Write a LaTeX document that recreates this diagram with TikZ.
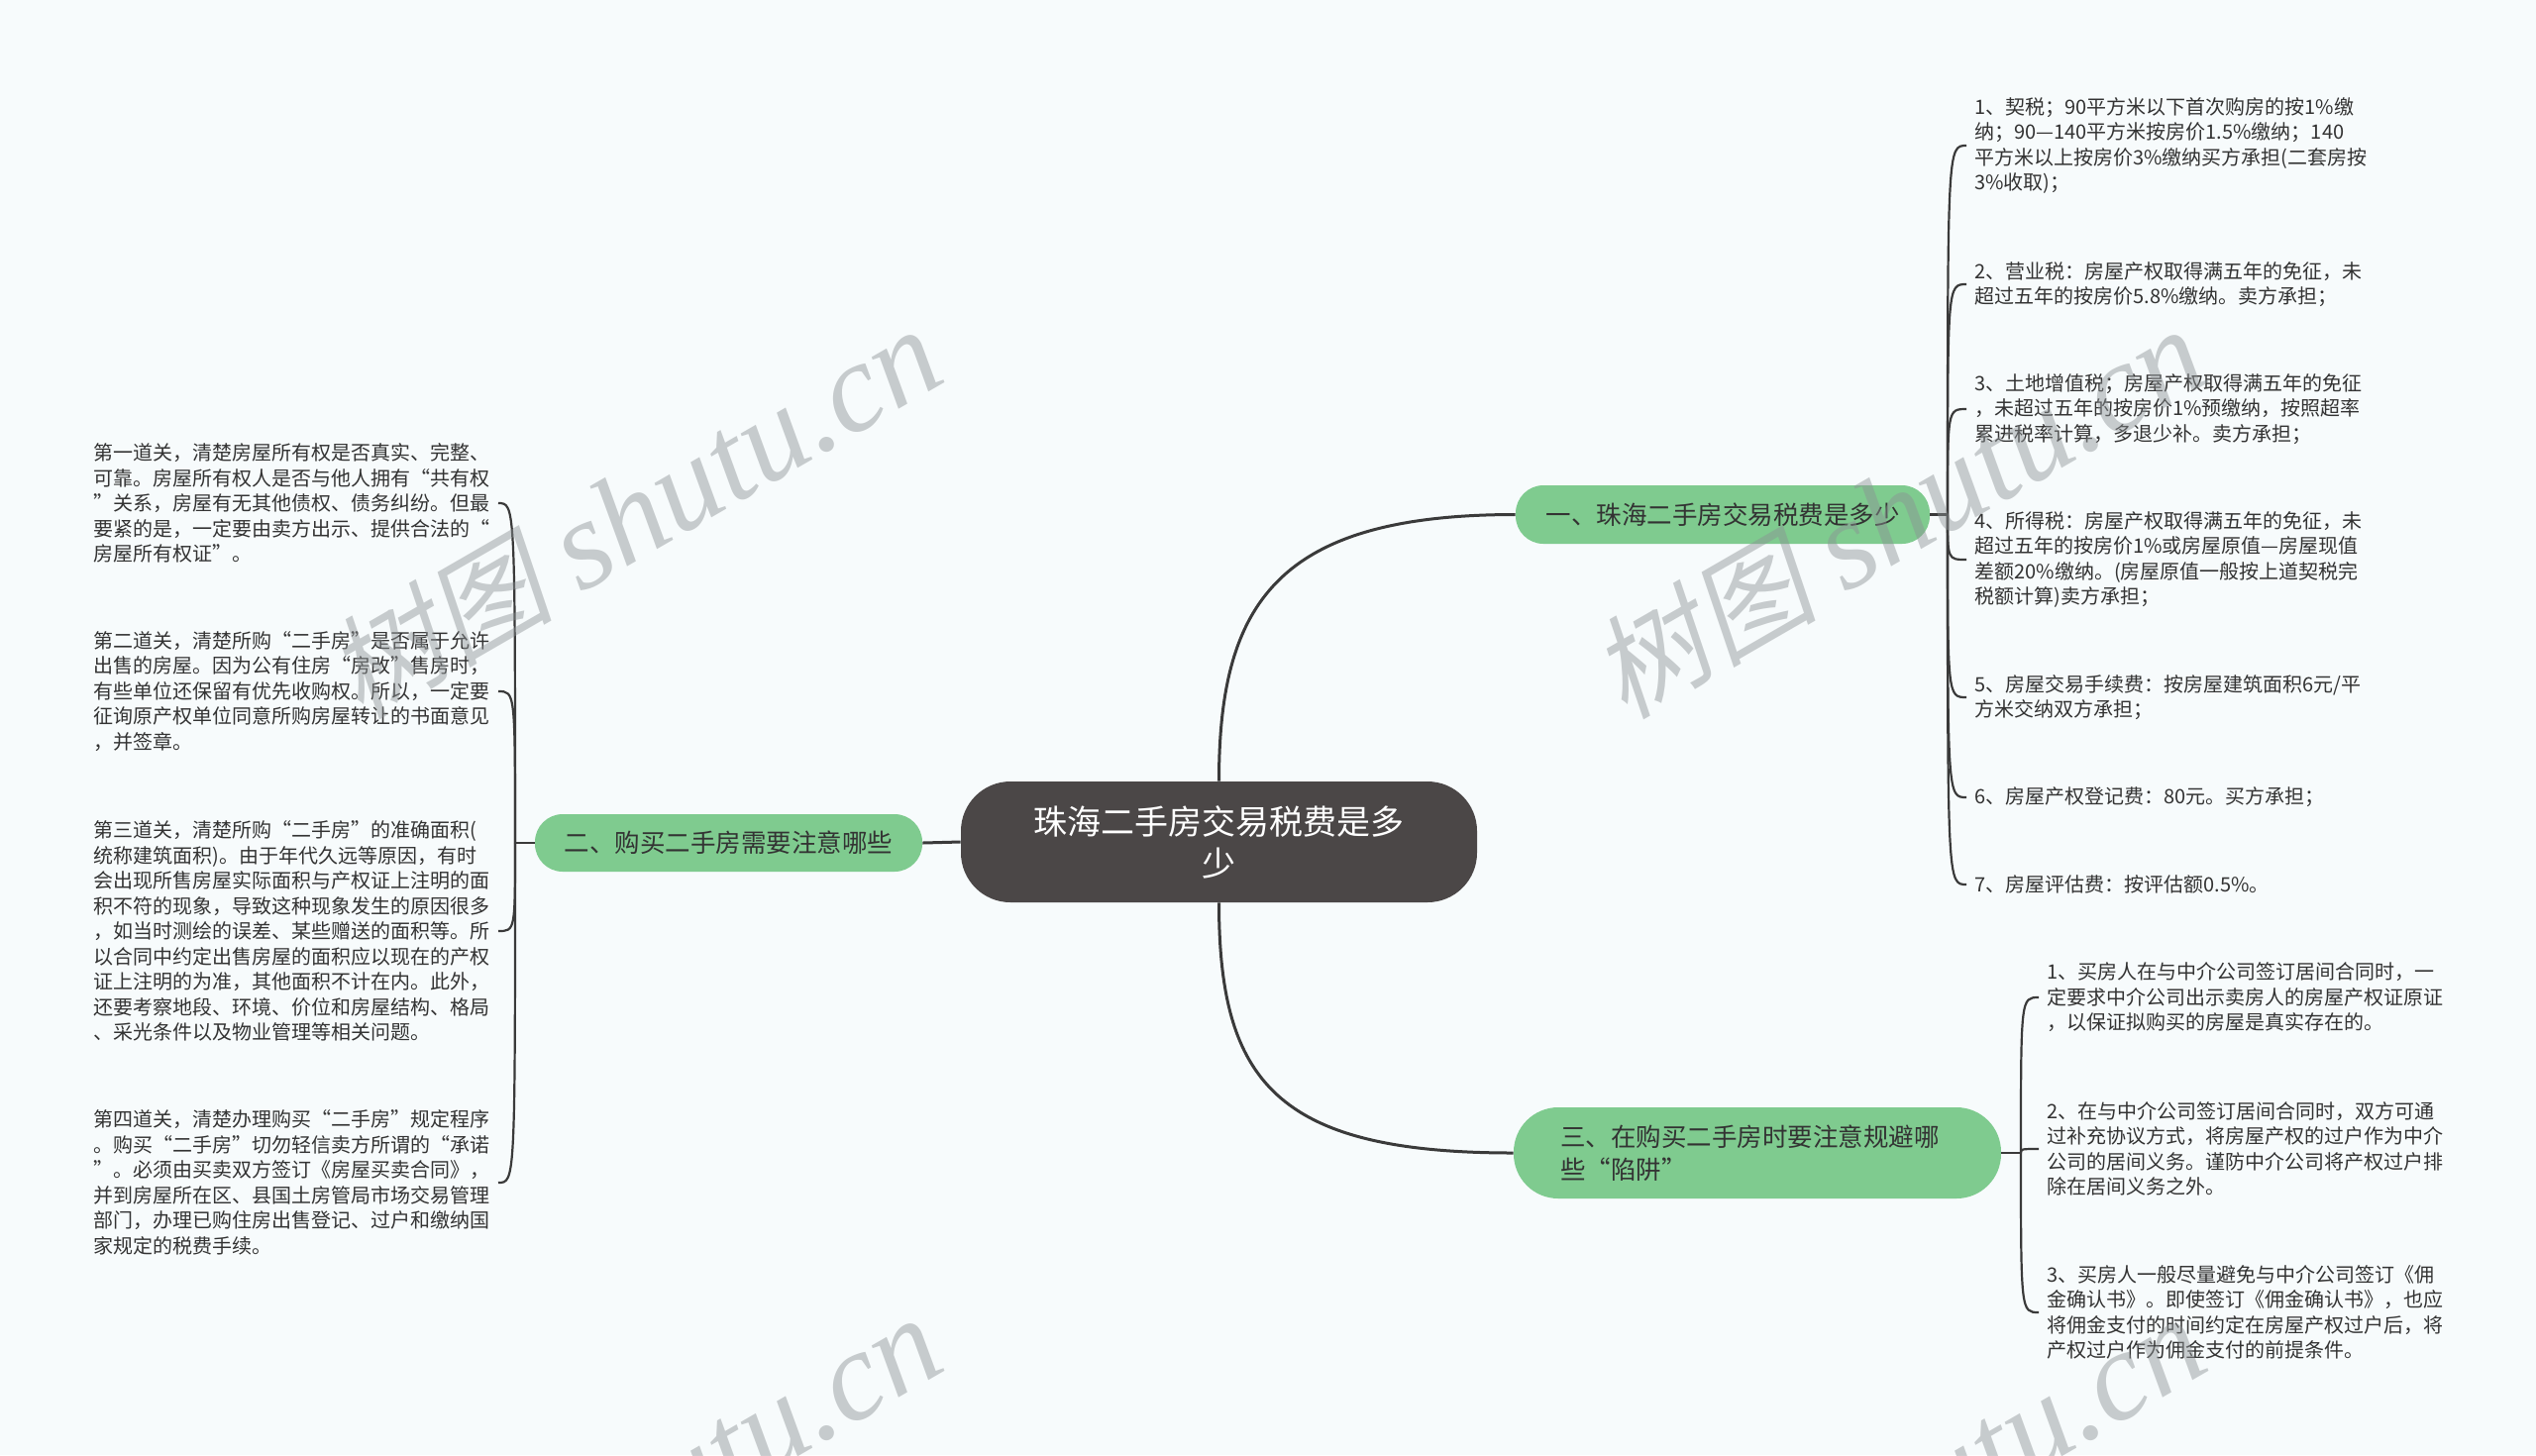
\documentclass[tikz,border=0pt]{standalone}
\usepackage{fontspec}
\setmainfont{Noto Sans CJK SC}
\newfontfamily\wmcjk[FakeSlant=0.2]{Noto Sans CJK SC}
\newfontfamily\wmlatin{Liberation Serif}
\definecolor{bgc}{HTML}{F7FBFC}
\definecolor{rootc}{HTML}{4B4747}
\definecolor{branchc}{HTML}{7FCB8F}
\definecolor{txt}{HTML}{333333}
\definecolor{linec}{HTML}{3A3A3A}
\definecolor{wmc}{HTML}{8C9194}
\newcommand{\wmtext}{{\wmcjk\fontsize{57pt}{64pt}\selectfont 树图}\hspace{14pt}{\wmlatin\itshape\fontsize{64pt}{70pt}\selectfont shutu.cn}}
\tikzset{
  rootbox/.style={fill=rootc, text=white, rounded corners=25pt, minimum width=260.5pt,
    minimum height=61pt, align=center, inner sep=0pt,
    font=\fontsize{17pt}{21pt}\selectfont},
  branchbox/.style={fill=branchc, text=txt, inner sep=0pt, align=center,
    font=\fontsize{12.75pt}{16.5pt}\selectfont},
  leafR/.style={anchor=west, text=txt, align=left, inner xsep=4pt, inner ysep=2pt,
    font=\fontsize{10pt}{12.75pt}\selectfont},
  leafL/.style={anchor=east, text=txt, text width=200pt, align=left, inner xsep=4pt,
    inner ysep=2pt, font=\fontsize{10pt}{12.75pt}\selectfont},
  mainline/.style={draw=linec, line width=1.5pt},
  leafline/.style={draw=linec, line width=1.1pt},
  hook/.style={to path={.. controls (\tikztostart |- \tikztotarget) and (\tikztostart |- \tikztotarget) .. (\tikztotarget)}},
  wmark/.style={text=wmc, opacity=0.45, rotate=30, inner sep=0pt}
}
\begin{document}
\begin{tikzpicture}[x=0.5pt,y=-0.5pt]
\fill[bgc] (0,0) rectangle (2560,1469);
\useasboundingbox (0,0) rectangle (2560,1469);

% root
\node[rootbox] (c) at (1230.5,850) {珠海二手房交易税费是多\\少};

% branches
\node[branchbox, minimum width=209pt, minimum height=29.5pt, rounded corners=14pt] (b1) at (1739,519.5) {一、珠海二手房交易税费是多少};
\node[branchbox, minimum width=195.5pt, minimum height=29pt, rounded corners=14pt] (b2) at (735.5,851) {二、购买二手房需要注意哪些};
\node[branchbox, text width=199pt, align=left, inner xsep=23.5pt, inner ysep=0pt, minimum height=46pt, rounded corners=22.5pt] (b3) at (1774,1164) {三、在购买二手房时要注意规避哪\\些“陷阱”};

% junctions
\coordinate (j1) at (1966,519.5);
\coordinate (j2) at (520,851);
\coordinate (j3) at (2040,1164);

% right leaves of branch 1
\node[leafR] (r1) at (1985,147) {1、契税；90平方米以下首次购房的按1\%缴\\纳；90—140平方米按房价1.5\%缴纳；140\\平方米以上按房价3\%缴纳买方承担(二套房按\\3\%收取)；};
\node[leafR] (r2) at (1985,287) {2、营业税：房屋产权取得满五年的免征，未\\超过五年的按房价5.8\%缴纳。卖方承担；};
\node[leafR] (r3) at (1985,413) {3、土地增值税；房屋产权取得满五年的免征\\，未超过五年的按房价1\%预缴纳，按照超率\\累进税率计算，多退少补。卖方承担；};
\node[leafR] (r4) at (1985,565) {4、所得税：房屋产权取得满五年的免征，未\\超过五年的按房价1\%或房屋原值—房屋现值\\差额20\%缴纳。(房屋原值一般按上道契税完\\税额计算)卖方承担；};
\node[leafR] (r5) at (1985,704) {5、房屋交易手续费：按房屋建筑面积6元/平\\方米交纳双方承担；};
\node[leafR] (r6) at (1985,805) {6、房屋产权登记费：80元。买方承担；};
\node[leafR] (r7) at (1985,893) {7、房屋评估费：按评估额0.5\%。};

% leaves of branch 3
\node[leafR] (s1) at (2058,1007) {1、买房人在与中介公司签订居间合同时，一\\定要求中介公司出示卖房人的房屋产权证原证\\，以保证拟购买的房屋是真实存在的。};
\node[leafR] (s2) at (2058,1160) {2、在与中介公司签订居间合同时，双方可通\\过补充协议方式，将房屋产权的过户作为中介\\公司的居间义务。谨防中介公司将产权过户排\\除在居间义务之外。};
\node[leafR] (s3) at (2058,1325) {3、买房人一般尽量避免与中介公司签订《佣\\金确认书》。即使签订《佣金确认书》，也应\\将佣金支付的时间约定在房屋产权过户后，将\\产权过户作为佣金支付的前提条件。};

% left leaves of branch 2
\node[leafL] (l1) at (503,508) {第一道关，清楚房屋所有权是否真实、完整、\\可靠。房屋所有权人是否与他人拥有“共有权\\”关系，房屋有无其他债权、债务纠纷。但最\\要紧的是，一定要由卖方出示、提供合法的“\\房屋所有权证”。};
\node[leafL] (l2) at (503,698) {第二道关，清楚所购“二手房”是否属于允许\\出售的房屋。因为公有住房“房改”售房时，\\有些单位还保留有优先收购权。所以，一定要\\征询原产权单位同意所购房屋转让的书面意见\\，并签章。};
\node[leafL] (l3) at (503,940) {第三道关，清楚所购“二手房”的准确面积(\\统称建筑面积)。由于年代久远等原因，有时\\会出现所售房屋实际面积与产权证上注明的面\\积不符的现象，导致这种现象发生的原因很多\\，如当时测绘的误差、某些赠送的面积等。所\\以合同中约定出售房屋的面积应以现在的产权\\证上注明的为准，其他面积不计在内。此外，\\还要考察地段、环境、价位和房屋结构、格局\\、采光条件以及物业管理等相关问题。};
\node[leafL] (l4) at (503,1194) {第四道关，清楚办理购买“二手房”规定程序\\。购买“二手房”切勿轻信卖方所谓的“承诺\\”。必须由买卖双方签订《房屋买卖合同》，\\并到房屋所在区、县国土房管局市场交易管理\\部门，办理已购住房出售登记、过户和缴纳国\\家规定的税费手续。};

% main connectors
\draw[mainline] (c.north) .. controls +(0,-180) and +(-240,0) .. (b1.west);
\draw[mainline] (c.south) .. controls +(0,180) and +(-240,0) .. (b3.west);
\draw[mainline] (c.west) -- (b2.east);

% branch 1 bracket
\draw[leafline] (b1.east) -- (j1);
\foreach \n in {r1,r2,r3,r4,r5,r6,r7} \draw[leafline] (j1) to[hook] (\n.west);
% branch 2 bracket
\draw[leafline] (b2.west) -- (j2);
\foreach \n in {l1,l2,l3,l4} \draw[leafline] (j2) to[hook] (\n.east);
% branch 3 bracket
\draw[leafline] (b3.east) -- (j3);
\foreach \n in {s1,s2,s3} \draw[leafline] (j3) to[hook] (\n.west);

% watermarks
\begin{scope}
\clip (0,0) rectangle (2560,1469);
\node[wmark] (w1) at (640,518) {\wmtext};
\node[wmark] (w2) at (1916,518) {\wmtext};
\node[wmark] (w3) at (640,1516) {\wmtext};
\node[wmark] (w4) at (1916,1516) {\wmtext};
\end{scope}
\end{tikzpicture}
\end{document}
